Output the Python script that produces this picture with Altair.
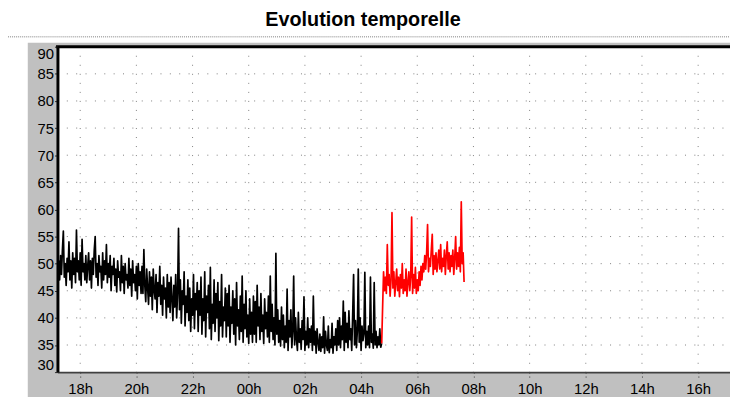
import altair as alt
import pandas as pd

# ---- data (hours counted from 17:00) ----
T_START = 0.2          # first sample (17:12)
T_STEP = 1 / 30        # 2-minute sampling

black_values = [
    # 17:12 - 18:12
    44.5, 50.5, 47.0, 51.5, 48.0, 52.5, 56.0, 47.5, 50.0, 46.0, 51.0, 48.5, 54.0, 47.0, 50.5,
    45.5, 52.0, 48.0, 51.0, 46.5, 56.2, 48.5, 50.5, 47.0, 52.0, 46.0, 54.5, 48.5, 50.0, 47.0,
    # 18:12 - 19:12
    51.5, 46.5, 49.5, 52.0, 47.0, 50.5, 45.5, 51.0, 48.0, 52.5, 55.0, 47.5, 50.0, 46.0, 51.5,
    48.5, 49.5, 45.5, 52.0, 47.0, 50.5, 48.0, 53.5, 46.5, 50.0, 47.5, 51.5, 45.0, 49.5, 48.0,
    # 19:12 - 20:12
    51.0, 46.0, 49.0, 44.8, 50.5, 47.5, 48.5, 45.0, 51.5, 46.5, 49.5, 44.5, 50.0, 47.0, 48.0,
    45.5, 51.0, 46.0, 49.0, 44.0, 50.5, 46.5, 48.0, 45.0, 49.5, 43.5, 50.0, 46.0, 48.5, 44.5,
    # 20:12 - 21:12
    49.5, 44.5, 52.6, 46.0, 43.0, 49.0, 45.5, 42.5, 48.5, 44.0, 47.5, 41.5, 49.0, 45.0, 43.5,
    48.0, 41.0, 46.5, 44.0, 49.5, 42.5, 46.0, 40.5, 47.5, 43.5, 45.5, 40.0, 48.0, 42.0, 46.5,
    # 21:12 - 22:12
    41.0, 47.5, 43.5, 39.5, 46.0, 42.0, 48.0, 40.0, 44.5, 56.5, 41.5, 47.0, 39.0, 45.0, 42.5,
    48.5, 38.5, 44.0, 41.0, 47.0, 39.5, 45.5, 37.5, 43.5, 40.5, 48.0, 38.0, 44.5, 41.5, 46.5,
    # 22:12 - 23:12
    37.5, 45.0, 40.5, 47.5, 37.0, 43.5, 39.5, 48.5, 36.5, 44.0, 41.0, 46.0, 38.0, 49.3, 36.0,
    42.5, 39.0, 47.0, 37.5, 44.5, 40.0, 46.5, 35.8, 43.0, 38.5, 48.0, 36.5, 42.0, 39.5, 45.5,
    # 23:12 - 00:12
    36.5, 44.5, 38.5, 46.0, 35.5, 42.0, 39.0, 45.0, 37.0, 43.5, 35.0, 46.5, 38.5, 41.5, 36.0,
    44.0, 37.5, 47.7, 35.5, 42.5, 38.0, 45.0, 36.5, 40.5, 35.3, 43.5, 37.0, 41.0, 35.5, 44.0,
    # 00:12 - 01:12
    37.0, 43.0, 35.5, 46.0, 38.5, 42.0, 36.0, 44.5, 37.5, 40.5, 35.3, 43.5, 38.0, 41.0, 36.5,
    44.0, 35.5, 47.7, 37.5, 42.5, 36.0, 40.0, 35.0, 51.9, 37.0, 41.5, 35.5, 39.5, 34.8, 42.0,
    # 01:12 - 02:12
    36.0, 40.5, 34.5, 38.5, 35.5, 45.3, 34.0, 39.5, 36.5, 41.5, 34.5, 37.5, 47.7, 35.0, 40.0,
    36.0, 34.0, 41.0, 35.5, 38.0, 34.2, 39.5, 36.0, 43.9, 34.0, 37.5, 35.0, 40.0, 34.5, 38.0,
    # 02:12 - 03:12
    35.5, 38.5, 34.0, 44.0, 35.0, 37.5, 33.5, 38.0, 35.5, 34.0, 37.0, 33.8, 36.5, 34.5, 40.2,
    33.5, 37.5, 35.0, 34.0, 38.5, 33.6, 36.0, 34.5, 39.0, 33.5, 36.5, 35.0, 38.0, 34.0, 39.5,
    # 03:12 - 04:12
    35.0, 40.0, 34.5, 38.5, 36.0, 43.1, 34.0, 41.0, 35.5, 39.0, 34.5, 41.3, 36.0, 38.0, 34.0,
    40.5, 48.0, 35.0, 39.5, 34.5, 37.5, 49.0, 35.5, 40.0, 34.0, 38.5, 35.8, 37.0, 48.4, 34.5,
    # 04:12 - 04:44
    37.5, 35.0, 38.5, 34.5, 47.5, 35.5, 37.0, 34.4, 46.5, 35.0, 37.5, 34.5, 36.5, 35.0, 38.0,
    34.6, 35.3,
]

red_values = [
    35.3, 42.0, 48.5, 45.0, 47.5, 44.5, 53.5, 46.0, 48.0, 44.0, 47.0, 59.4, 45.5, 48.5, 44.0,
    46.5, 49.0, 45.0, 47.5, 43.9, 48.0, 45.5, 50.0, 44.5, 47.0, 45.0, 49.0, 44.0, 46.5, 48.5,
    45.0, 47.5, 58.6, 44.5, 48.0, 45.5, 49.3, 44.5, 47.0, 45.0, 48.5, 46.0, 49.5, 47.0, 50.0,
    48.5, 51.5, 49.0, 52.0, 57.2, 48.5, 51.0, 49.5, 52.5, 55.4, 48.0, 51.5, 49.0, 52.0, 48.5,
    50.5, 52.5, 49.0, 53.5, 48.5, 51.0, 49.5, 52.5, 48.0, 51.5, 54.0, 49.0, 52.0, 48.5, 51.5,
    49.5, 52.5, 48.0, 51.0, 55.0, 49.0, 52.0, 49.5, 53.0, 48.5, 61.4, 50.0, 52.0, 46.6,
]

tick_hours = [1, 3, 5, 7, 9, 11, 13, 15, 17, 19, 21, 23]
tick_labels = ["18h", "20h", "22h", "00h", "02h", "04h", "06h", "08h", "10h", "12h", "14h", "16h"]
y_ticks = [30, 35, 40, 45, 50, 55, 60, 65, 70, 75, 80, 85, 90]

TITLE = "Evolution temporelle"
X_DOMAIN = [0.19, 24.134]
Y_DOMAIN = [30, 90]
W, H = 680, 329
FONT = "Liberation Sans"

black_n = len(black_values)
black_df = pd.DataFrame({
    "t": [T_START + i * T_STEP for i in range(black_n)],
    "v": black_values,
})
red_start = T_START + (black_n - 1) * T_STEP
red_df = pd.DataFrame({
    "t": [red_start + i * T_STEP for i in range(len(red_values))],
    "v": red_values,
})
xgrid_df = pd.DataFrame({"t": tick_hours})
ygrid_df = pd.DataFrame({"v": y_ticks[1:-1]})

label_expr = "[" + ",".join(f"'{s}'" for s in tick_labels) + "][indexof([" + \
    ",".join(str(h) for h in tick_hours) + "], datum.value)]"

x_axis = alt.Axis(values=tick_hours, labelExpr=label_expr, grid=False, title=None,
                  labelFont=FONT, labelFontSize=15, labelColor="#000000",
                  tickSize=5, tickColor="#303030", tickDash=[1, 3], labelPadding=5,
                  domainColor="#404040", domainWidth=2, zindex=1, labelFlush=False,
                  labelOverlap=False)
y_axis = alt.Axis(values=y_ticks, grid=False, title=None,
                  labelFont=FONT, labelFontSize=15, labelColor="#000000",
                  tickSize=3, tickColor="#303030", labelPadding=1, labelFlush=True,
                  labelOverlap=False,
                  domainColor="#000000", domainWidth=3, zindex=1)

xs = alt.Scale(domain=X_DOMAIN, nice=False, zero=False)
ys = alt.Scale(domain=Y_DOMAIN, nice=False, zero=False)


def X(field="t"):
    return alt.X(f"{field}:Q", scale=xs, axis=x_axis)


def Y(field="v"):
    return alt.Y(f"{field}:Q", scale=ys, axis=y_axis)


base_dummy = pd.DataFrame({"a": [0]})

gray_panel = alt.Chart(base_dummy).mark_rect(color="#c0c0c0").encode(
    x=alt.value(-30), x2=alt.value(W + 20), y=alt.value(-4), y2=alt.value(H + 40))
white_plot = alt.Chart(base_dummy).mark_rect(color="#ffffff").encode(
    x=alt.value(0), x2=alt.value(W + 20), y=alt.value(0), y2=alt.value(H))
sep_line = alt.Chart(base_dummy).mark_rule(color="#808080", strokeDash=[1, 1], strokeWidth=1).encode(
    x=alt.value(-60), x2=alt.value(W + 20), y=alt.value(-10))
title_text = alt.Chart(base_dummy).mark_text(
    text=TITLE, font=FONT, fontSize=20, fontWeight="bold", color="#000000",
    align="center", baseline="alphabetic").encode(x=alt.value(309), y=alt.value(-21))

hgrid = alt.Chart(ygrid_df).mark_rule(color="#808080", strokeDash=[1, 8.47], strokeWidth=1).encode(
    y=Y("v"), x=alt.value(0), x2=alt.value(W))
vgrid = alt.Chart(xgrid_df).mark_rule(color="#808080", strokeDash=[1, 8.13], strokeWidth=1).encode(
    x=X("t"), y=alt.value(0), y2=alt.value(H))

black_line = alt.Chart(black_df).mark_line(color="#000000", strokeWidth=1.7,
                                           strokeJoin="round").encode(x=X(), y=Y())
red_line = alt.Chart(red_df).mark_line(color="#ff0000", strokeWidth=1.7,
                                       strokeJoin="round").encode(x=X(), y=Y())

top_border = alt.Chart(base_dummy).mark_rule(color="#000000", strokeWidth=3).encode(
    y=alt.Y(datum=90, scale=ys, axis=y_axis), x=alt.value(-1.5), x2=alt.value(W + 20))

chart = alt.layer(
    gray_panel, white_plot, sep_line, title_text, hgrid, vgrid,
    black_line, red_line, top_border
).properties(
    width=W, height=H,
    autosize="none",
    padding={"left": 50, "top": 37, "right": 0, "bottom": 23},
    background="#ffffff",
).configure_view(stroke=None)

chart.save("out.html", embed_options={"renderer": "svg", "actions": False})
